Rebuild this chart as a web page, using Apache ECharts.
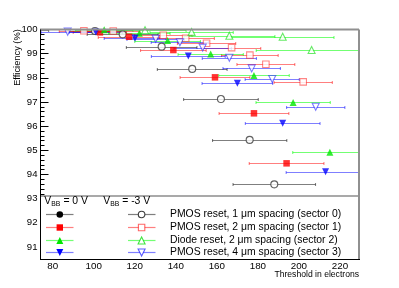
<!DOCTYPE html>
<html><head><meta charset="utf-8">
<script src="https://cdn.jsdelivr.net/npm/echarts@6/dist/echarts.min.js"></script>
<style>html,body{margin:0;padding:0;background:#fff}#c{width:399px;height:288px}</style>
</head><body><div id="c"></div><script>
// ---- data (threshold in electrons, efficiency in %, threshold spread half-width) ----
const sec0_0V_thr = [68.0];
const sec0_0V_eff = [99.98];
const sec0_0V_err = [10.0];

const sec1_0V_thr = [103.0, 117.2, 138.8, 159.1, 178.1, 194.0];
const sec1_0V_eff = [99.88, 99.70, 99.15, 98.02, 96.53, 94.46];
const sec1_0V_err = [13, 15, 16, 17, 17, 18.2];

const sec2_0V_thr = [105.1, 122.2, 136.0, 157.0, 178.1, 197.2, 215.1];
const sec2_0V_eff = [99.99, 99.84, 99.54, 98.99, 98.10, 96.98, 94.92];
const sec2_0V_err = [14, 15, 16, 15.9, 17.2, 18.1, 18.1];

const sec3_0V_thr = [101.0, 120.1, 146.1, 170.0, 192.1, 213.0];
const sec3_0V_eff = [99.90, 99.64, 98.90, 97.77, 96.12, 94.11];
const sec3_0V_err = [13, 15, 18, 17.2, 18.2, 19.2];

const sec0_3V_thr = [100.6, 114.1, 133.1, 148.0, 162.0, 176.0, 188.0];
const sec0_3V_eff = [99.94, 99.80, 99.29, 98.37, 97.12, 95.43, 93.59];
const sec0_3V_err = [13, 17.3, 17.2, 17.0, 18.2, 18.1, 20.1];

const sec1_3V_thr = [95.2, 109.5, 133.9, 144.8, 155.0, 167.2, 176.1, 183.9, 202.1];
const sec1_3V_eff = [99.95, 99.94, 99.76, 99.64, 99.43, 99.25, 98.94, 98.56, 97.83];
const sec1_3V_err = [12, 13, 14, 14, 14.2, 14.2, 13.8, 14.1, 14.2];

const sec2_3V_thr = [125.0, 147.7, 166.1, 192.1, 206.2];
const sec2_3V_eff = [99.97, 99.90, 99.74, 99.70, 99.15];
const sec2_3V_err = [20, 20.3, 22.2, 25, 27];

const sec3_3V_thr = [87.3, 130.2, 142.0, 153.1, 166.1, 177.0, 187.0, 208.2];
const sec3_3V_eff = [99.91, 99.62, 99.47, 99.25, 98.83, 98.39, 97.95, 96.80];
const sec3_3V_err = [13, 14, 14, 14, 13.2, 14, 13.2, 14.2];

const xTickLabels = [80, 100, 120, 140, 160, 180, 200, 220];
const yTickLabels = [91, 92, 93, 94, 95, 96, 97, 98, 99, 100];
const legendTexts = [
  'PMOS reset, 1 \u03bcm spacing (sector 0)',
  'PMOS reset, 2 \u03bcm spacing (sector 1)',
  'Diode reset, 2 \u03bcm spacing (sector 2)',
  'PMOS reset, 4 \u03bcm spacing (sector 3)'
];

// ---- styling ----
const FONT = '"Liberation Sans", Arial, Helvetica, sans-serif';
const X_MIN = 73.8, X_MAX = 229.3, Y_MIN = 90.5, Y_MAX = 100;
const GRID = { left: 40, right: 40, top: 29.5, bottom: 29 };

const sectorStyle = [
  { marker: '#000000', open: '#3a3a3a', bar: 'rgba(0,0,0,0.5)', symbol: 'circle', size: 7, rot: 0 },
  { marker: '#ff0000', open: 'rgba(255,0,0,0.6)', bar: 'rgba(255,0,0,0.5)', symbol: 'rect', size: 6.5, rot: 0 },
  { marker: '#00e600', open: 'rgba(0,220,0,0.75)', bar: 'rgba(0,255,0,0.55)', symbol: 'triangle', size: 7, rot: 0 },
  { marker: '#0000ff', open: 'rgba(0,0,255,0.65)', bar: 'rgba(0,0,255,0.5)', symbol: 'triangle', size: 7, rot: 180 }
];

const groups = [
  { sec: 0, open: false, thr: sec0_0V_thr, eff: sec0_0V_eff, err: sec0_0V_err },
  { sec: 0, open: true,  thr: sec0_3V_thr, eff: sec0_3V_eff, err: sec0_3V_err },
  { sec: 1, open: false, thr: sec1_0V_thr, eff: sec1_0V_eff, err: sec1_0V_err },
  { sec: 1, open: true,  thr: sec1_3V_thr, eff: sec1_3V_eff, err: sec1_3V_err },
  { sec: 2, open: false, thr: sec2_0V_thr, eff: sec2_0V_eff, err: sec2_0V_err },
  { sec: 2, open: true,  thr: sec2_3V_thr, eff: sec2_3V_eff, err: sec2_3V_err },
  { sec: 3, open: false, thr: sec3_0V_thr, eff: sec3_0V_eff, err: sec3_0V_err },
  { sec: 3, open: true,  thr: sec3_3V_thr, eff: sec3_3V_eff, err: sec3_3V_err }
];

function errBarRenderer(color) {
  return function (params, api) {
    const x = api.value(0), y = api.value(1), e = api.value(2);
    const cs = params.coordSys;
    const p1 = api.coord([x - e, y]);
    const p2 = api.coord([x + e, y]);
    if (p1[1] < cs.y - 0.5 || p1[1] > cs.y + cs.height) return;
    const a = Math.max(p1[0], cs.x), b = Math.min(p2[0], cs.x + cs.width);
    if (b <= a) return;
    const yy = Math.round(p1[1]) + 0.5;
    const st = { stroke: color, lineWidth: 1.1 };
    const ch = [{ type: 'line', shape: { x1: a, y1: yy, x2: b, y2: yy }, style: st }];
    if (p1[0] >= cs.x) ch.push({ type: 'line', shape: { x1: p1[0], y1: yy - 1.5, x2: p1[0], y2: yy + 1.5 }, style: st });
    if (p2[0] <= cs.x + cs.width) ch.push({ type: 'line', shape: { x1: p2[0], y1: yy - 1.5, x2: p2[0], y2: yy + 1.5 }, style: st });
    return { type: 'group', children: ch };
  };
}

const series = [];
groups.forEach(function (g, gi) {
  const s = sectorStyle[g.sec];
  const data = g.thr.map(function (t, i) { return [t, g.eff[i], g.err[i]]; });
  series.push({
    type: 'custom', renderItem: errBarRenderer(s.bar), data: data,
    encode: { x: 0, y: 1 }, z: 2 + gi * 0.01, silent: true, animation: false
  });
});
groups.forEach(function (g, gi) {
  const s = sectorStyle[g.sec];
  const data = g.thr.map(function (t, i) { return [t, g.eff[i]]; });
  series.push({
    type: 'scatter', data: data, symbol: s.symbol, symbolSize: s.size, symbolRotate: s.rot,
    clip: true, z: 5 + gi * 0.01, silent: true, animation: false,
    itemStyle: g.open ? { color: '#ffffff', borderColor: s.open, borderWidth: 1.1 } : { color: s.marker, borderWidth: 0 }
  });
});

const yMinor = [];
for (let v = 90.6; v < 100; v += 0.2) {
  const r = Math.round(v * 10) / 10;
  if (Math.abs(r - Math.round(r)) > 0.01) yMinor.push(r);
}

// ---- legend & frame graphics ----
const gfx = [];
const L = GRID.left, R = 399 - GRID.right, T = GRID.top, B = 288 - GRID.bottom;
const legTop = 196;
gfx.push({ type: 'rect', shape: { x: L, y: legTop, width: R - L, height: B - legTop }, style: { fill: '#ffffff' }, z: 100 });
gfx.push({ type: 'line', shape: { x1: L, y1: legTop, x2: R, y2: legTop }, style: { stroke: '#8c8c8c', lineWidth: 1.6 }, z: 101 });
// frame
gfx.push({ type: 'line', shape: { x1: L, y1: T, x2: R, y2: T }, style: { stroke: '#909090', lineWidth: 2 }, z: 101 });
gfx.push({ type: 'line', shape: { x1: R, y1: T, x2: R, y2: B }, style: { stroke: '#909090', lineWidth: 2 }, z: 101 });
gfx.push({ type: 'line', shape: { x1: L + 0.5, y1: T, x2: L + 0.5, y2: B }, style: { stroke: '#000', lineWidth: 1 }, z: 101 });
gfx.push({ type: 'line', shape: { x1: L, y1: B + 0.5, x2: R + 1, y2: B + 0.5 }, style: { stroke: '#000', lineWidth: 1 }, z: 101 });

function txt(x, y, s, size, opt) {
  return Object.assign({ type: 'text', x: x, y: y, z: 102,
    style: { text: s, fontFamily: FONT, fontSize: size, fill: '#000', align: 'left', verticalAlign: 'middle' } }, opt || {});
}
// header V_BB
gfx.push(txt(44.3, 201.3, 'V', 10.4));
gfx.push(txt(51.2, 204.3, 'BB', 6.8));
gfx.push(txt(60.5, 201.3, ' = 0 V', 10.4));
gfx.push(txt(103.3, 201.3, 'V', 10.4));
gfx.push(txt(110.2, 204.3, 'BB', 6.8));
gfx.push(txt(119.3, 201.3, ' = -3 V', 10.4));

const rowY = [214.4, 227.2, 239.9, 252.3];
function markerShape(sec, cx, cy, open) {
  const s = sectorStyle[sec];
  const style = open ? { fill: '#fff', stroke: s.open, lineWidth: 1.1 } : { fill: s.marker };
  if (s.symbol === 'circle') return { type: 'circle', shape: { cx: cx, cy: cy, r: 3.3 }, style: style, z: 103 };
  if (s.symbol === 'rect') return { type: 'rect', shape: { x: cx - 3.2, y: cy - 3.2, width: 6.4, height: 6.4 }, style: style, z: 103 };
  const h = 3.5;
  const pts = s.rot ? [[cx - h, cy - h], [cx + h, cy - h], [cx, cy + h]] : [[cx - h, cy + h], [cx + h, cy + h], [cx, cy - h]];
  return { type: 'polygon', shape: { points: pts }, style: style, z: 103 };
}
for (let i = 0; i < 4; i++) {
  const y = Math.round(rowY[i]) + 0.5;
  const c = sectorStyle[i].bar;
  gfx.push({ type: 'line', shape: { x1: 46, y1: y, x2: 73.5, y2: y }, style: { stroke: c, lineWidth: 1.2 }, z: 102 });
  gfx.push({ type: 'line', shape: { x1: 128, y1: y, x2: 155.5, y2: y }, style: { stroke: c, lineWidth: 1.2 }, z: 102 });
  gfx.push(markerShape(i, 59.8, y, false));
  gfx.push(markerShape(i, 141.6, y, true));
  gfx.push(txt(170, rowY[i], legendTexts[i], 10.4));
}
// axis titles
gfx.push({ type: 'text', x: 17.5, y: 57.5, rotation: Math.PI / 2, z: 102,
  style: { text: 'Efficiency (%)', fontFamily: FONT, fontSize: 9.3, fill: '#000', align: 'center', verticalAlign: 'middle' } });
gfx.push(txt(359, 274.5, 'Threshold in electrons', 8.6, { style: { text: 'Threshold in electrons', fontFamily: FONT, fontSize: 8.6, fill: '#000', align: 'right', verticalAlign: 'middle' } }));

const chart = echarts.init(document.getElementById('c'), null, { renderer: 'canvas' });
chart.setOption({
  animation: false,
  backgroundColor: '#ffffff',
  grid: GRID,
  xAxis: {
    type: 'value', min: X_MIN, max: X_MAX,
    axisLine: { show: false }, splitLine: { show: false },
    axisTick: { show: false },
    axisLabel: { customValues: xTickLabels, margin: 2.5, fontSize: 9.8, color: '#000', fontFamily: FONT }
  },
  yAxis: [{
    type: 'value', min: Y_MIN, max: Y_MAX,
    axisLine: { show: false }, splitLine: { show: false },
    axisTick: { show: true, inside: true, length: 8.5, customValues: yTickLabels, lineStyle: { color: '#000', width: 1 } },
    axisLabel: { customValues: yTickLabels, margin: 2.5, fontSize: 9.6, color: '#000', fontFamily: FONT }
  }, {
    type: 'value', min: Y_MIN, max: Y_MAX, position: 'left',
    axisLine: { show: false }, splitLine: { show: false },
    axisTick: { show: true, inside: true, length: 4.5, customValues: yMinor, lineStyle: { color: '#000', width: 1 } },
    axisLabel: { show: false }
  }],
  graphic: { elements: gfx },
  series: series
});
</script></body></html>
